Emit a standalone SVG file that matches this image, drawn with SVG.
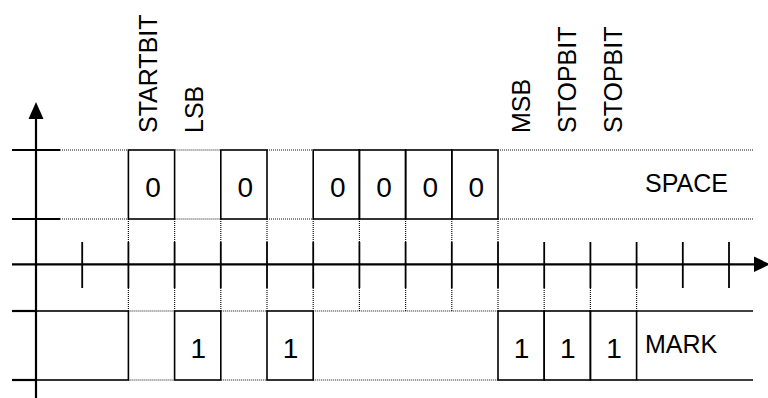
<svg xmlns="http://www.w3.org/2000/svg" width="768" height="398" viewBox="0 0 768 398">
<style>
  .ax { stroke:#000; stroke-width:2.2; fill:none; }
  .bx { stroke:#000; stroke-width:1.6; fill:none; }
  .dt { stroke:#111; stroke-width:1.2; stroke-dasharray:1 1; fill:none; }
  .tk { stroke:#000; stroke-width:1.8; fill:none; }
  .lb { font-family:"Liberation Sans", Arial, sans-serif; font-size:25px; fill:#000; }
  .dg { font-family:"Liberation Sans", Arial, sans-serif; font-size:28px; fill:#000; text-anchor:middle; }
</style>

<g id="axes">
  <line class="ax" x1="36" y1="117" x2="36" y2="398"/>
  <polygon points="36,102 28.5,119 43.5,119" fill="#000"/>
  <line class="ax" x1="12" y1="264.3" x2="757" y2="264.3"/>
  <polygon points="770,264.3 754,256.5 754,272.1" fill="#000"/>
</g>

<g id="ticks">
  <g class="tk">
    <line x1="82.2" y1="242" x2="82.2" y2="288"/>
    <line x1="128.4" y1="242" x2="128.4" y2="288"/>
    <line x1="174.6" y1="242" x2="174.6" y2="288"/>
    <line x1="220.8" y1="242" x2="220.8" y2="288"/>
    <line x1="267" y1="242" x2="267" y2="288"/>
    <line x1="313.2" y1="242" x2="313.2" y2="288"/>
    <line x1="359.4" y1="242" x2="359.4" y2="288"/>
    <line x1="405.6" y1="242" x2="405.6" y2="288"/>
    <line x1="451.8" y1="242" x2="451.8" y2="288"/>
    <line x1="498" y1="242" x2="498" y2="288"/>
    <line x1="544.2" y1="242" x2="544.2" y2="288"/>
    <line x1="590.4" y1="242" x2="590.4" y2="288"/>
    <line x1="636.6" y1="242" x2="636.6" y2="288"/>
    <line x1="682.8" y1="242" x2="682.8" y2="288"/>
    <line x1="729" y1="242" x2="729" y2="288"/>
  </g>
</g>

<g id="connectors">
  <g class="dt">
    <line x1="128.4" y1="219" x2="128.4" y2="242"/>
    <line x1="174.6" y1="219" x2="174.6" y2="242"/>
    <line x1="220.8" y1="219" x2="220.8" y2="242"/>
    <line x1="267" y1="219" x2="267" y2="242"/>
    <line x1="313.2" y1="219" x2="313.2" y2="242"/>
    <line x1="359.4" y1="219" x2="359.4" y2="242"/>
    <line x1="405.6" y1="219" x2="405.6" y2="242"/>
    <line x1="451.8" y1="219" x2="451.8" y2="242"/>
    <line x1="498" y1="219" x2="498" y2="242"/>
    <line x1="128.4" y1="288" x2="128.4" y2="311"/>
    <line x1="174.6" y1="288" x2="174.6" y2="311"/>
    <line x1="220.8" y1="288" x2="220.8" y2="311"/>
    <line x1="267" y1="288" x2="267" y2="311"/>
    <line x1="313.2" y1="288" x2="313.2" y2="311"/>
    <line x1="359.4" y1="288" x2="359.4" y2="311"/>
    <line x1="405.6" y1="288" x2="405.6" y2="311"/>
    <line x1="451.8" y1="288" x2="451.8" y2="311"/>
    <line x1="498" y1="288" x2="498" y2="311"/>
    <line x1="544.2" y1="288" x2="544.2" y2="311"/>
    <line x1="590.4" y1="288" x2="590.4" y2="311"/>
    <line x1="636.6" y1="288" x2="636.6" y2="311"/>
    <line x1="60" y1="150" x2="128.4" y2="150"/>
    <line x1="60" y1="219" x2="128.4" y2="219"/>
    <line x1="174.6" y1="150" x2="220.8" y2="150"/>
    <line x1="174.6" y1="219" x2="220.8" y2="219"/>
    <line x1="267" y1="150" x2="313.2" y2="150"/>
    <line x1="267" y1="219" x2="313.2" y2="219"/>
    <line x1="498" y1="150" x2="753" y2="150"/>
    <line x1="498" y1="219" x2="753" y2="219"/>
    <line x1="128.4" y1="311" x2="174.6" y2="311"/>
    <line x1="128.4" y1="380" x2="174.6" y2="380"/>
    <line x1="220.8" y1="311" x2="267" y2="311"/>
    <line x1="220.8" y1="380" x2="267" y2="380"/>
    <line x1="313.2" y1="311" x2="498" y2="311"/>
    <line x1="313.2" y1="380" x2="498" y2="380"/>
  </g>
</g>

<g id="space-row">
  <line class="ax" x1="12" y1="150" x2="60" y2="150"/>
  <line class="ax" x1="12" y1="219" x2="60" y2="219"/>
  <rect class="bx" x="128.4" y="150" width="46.2" height="69"/>
  <rect class="bx" x="220.8" y="150" width="46.2" height="69"/>
  <rect class="bx" x="313.2" y="150" width="46.2" height="69"/>
  <rect class="bx" x="359.4" y="150" width="46.2" height="69"/>
  <rect class="bx" x="405.6" y="150" width="46.2" height="69"/>
  <rect class="bx" x="451.8" y="150" width="46.2" height="69"/>
  <text class="dg" x="153" y="196.7">0</text>
  <text class="dg" x="245.4" y="196.7">0</text>
  <text class="dg" x="337.8" y="196.7">0</text>
  <text class="dg" x="384" y="196.7">0</text>
  <text class="dg" x="430.2" y="196.7">0</text>
  <text class="dg" x="476.4" y="196.7">0</text>
  <text class="lb" x="645" y="191.7">SPACE</text>
</g>

<g id="mark-row">
  <line class="ax" x1="12" y1="311" x2="36" y2="311"/>
  <line class="ax" x1="12" y1="380" x2="36" y2="380"/>
  <rect class="bx" x="36" y="311" width="92.4" height="69"/>
  <rect class="bx" x="174.6" y="311" width="46.2" height="69"/>
  <rect class="bx" x="267" y="311" width="46.2" height="69"/>
  <rect class="bx" x="498" y="311" width="46.2" height="69"/>
  <rect class="bx" x="544.2" y="311" width="46.2" height="69"/>
  <rect class="bx" x="590.4" y="311" width="46.2" height="69"/>
  <line class="bx" x1="636.6" y1="311" x2="753" y2="311"/>
  <line class="bx" x1="636.6" y1="380" x2="753" y2="380"/>
  <text class="dg" x="198.2" y="358.3">1</text>
  <text class="dg" x="290.6" y="358.3">1</text>
  <text class="dg" x="521.6" y="358.3">1</text>
  <text class="dg" x="567.8" y="358.3">1</text>
  <text class="dg" x="614" y="358.3">1</text>
  <text class="lb" x="645" y="353.3">MARK</text>
</g>

<g id="labels">
  <text class="lb" transform="translate(157,133) rotate(-90)">STARTBIT</text>
  <text class="lb" transform="translate(203,133) rotate(-90)">LSB</text>
  <text class="lb" transform="translate(530,133) rotate(-90)">MSB</text>
  <text class="lb" transform="translate(576,133) rotate(-90)">STOPBIT</text>
  <text class="lb" transform="translate(622,133) rotate(-90)">STOPBIT</text>
</g>
</svg>
